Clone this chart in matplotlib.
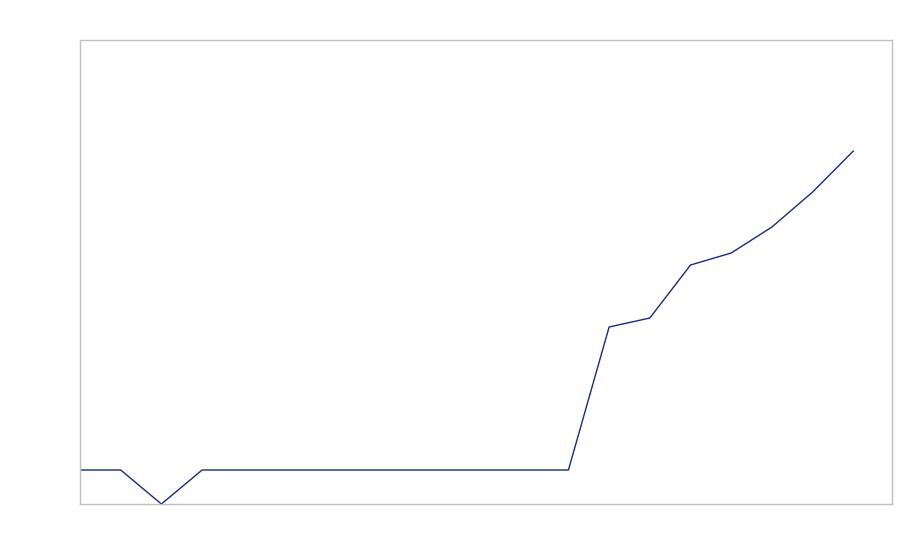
import matplotlib
matplotlib.use("Agg")
import matplotlib.pyplot as plt

# values (no axis labels shown)
steps = list(range(20))
values = [34, 34, 0, 34, 34, 34, 34, 34, 34, 34, 34, 34, 34,
          177, 186, 239, 251, 277, 312, 353]

fig = plt.figure(figsize=(9, 5.6), dpi=100)
ax = fig.add_axes([80 / 900, 56 / 560, 812 / 900, 464 / 560])
ax.plot(steps, values, color='#142a8c', linewidth=1.0)
ax.set_xlim(0, 19.95)
ax.set_ylim(0, 464)
ax.set_xticks([])
ax.set_yticks([])
for s in ax.spines.values():
    s.set_color('#bfbfbf')
    s.set_linewidth(1.0)

fig.savefig('out.png', dpi=100)
